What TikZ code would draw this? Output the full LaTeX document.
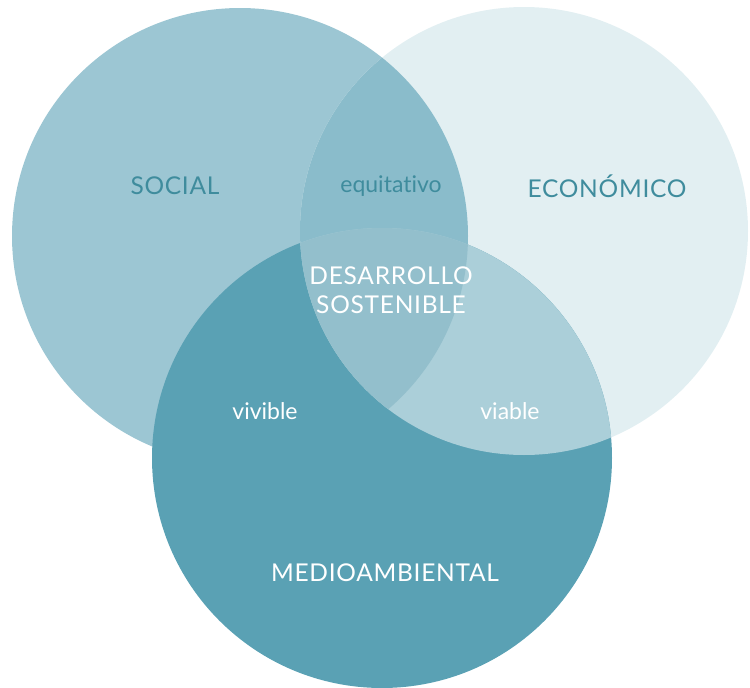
\documentclass[tikz,border=0pt]{standalone}
\usepackage{fontspec}
\setmainfont{Lato}[Ligatures={NoCommon}]
\newfontfamily\capsfont[LetterSpace=3,Ligatures={NoCommon}]{Lato}
\begin{document}
\definecolor{socialc}{HTML}{9CC6D3}
\definecolor{econc}{HTML}{E2EFF2}
\definecolor{medioc}{HTML}{5AA1B4}
\definecolor{secc}{HTML}{8ABCCB}
\definecolor{emc}{HTML}{ABCFD9}
\definecolor{allc}{HTML}{93BFCC}
\definecolor{darkteal}{HTML}{3F8C9D}
\begin{tikzpicture}[x=1pt,y=-1pt,
  darklabel/.style={text=darkteal,inner sep=0pt},
  lightlabel/.style={text=white,inner sep=0pt,align=center},
  bigcaps/.style={font=\capsfont\fontsize{24.5}{28.5}\selectfont},
  smalltext/.style={font=\fontsize{23}{26}\selectfont}]
\useasboundingbox (0,0) rectangle (750,688);
% circle geometry
\def\socialcirc{(240,236) circle[radius=228]}
\def\econcirc{(524,231) circle[radius=224]}
\def\mediocirc{(382,458) circle[radius=230]}
% base circles
\fill[socialc] \socialcirc;
\fill[econc] \econcirc;
\fill[medioc] \mediocirc;
% social and economic overlap
\begin{scope}
  \clip \socialcirc;
  \fill[secc] \econcirc;
\end{scope}
% economic and environmental overlap
\begin{scope}
  \clip \econcirc;
  \fill[emc] \mediocirc;
\end{scope}
% centre: all three
\begin{scope}
  \clip \socialcirc;
  \clip \econcirc;
  \fill[allc] \mediocirc;
\end{scope}
% labels
\node[darklabel,bigcaps] (social) at (175,186) {SOCIAL};
\node[darklabel,smalltext] (equit) at (391,186) {equitativo};
\node[darklabel,bigcaps] (econ) at (607,186) {ECONÓMICO};
\node[lightlabel,bigcaps] (ds) at (391,290) {DESARROLLO\\SOSTENIBLE};
\node[lightlabel,smalltext] (vivible) at (265,411) {vivible};
\node[lightlabel,smalltext] (viable) at (510,411) {viable};
\node[lightlabel,bigcaps] (medio) at (385,573) {MEDIOAMBIENTAL};
\end{tikzpicture}
\end{document}
